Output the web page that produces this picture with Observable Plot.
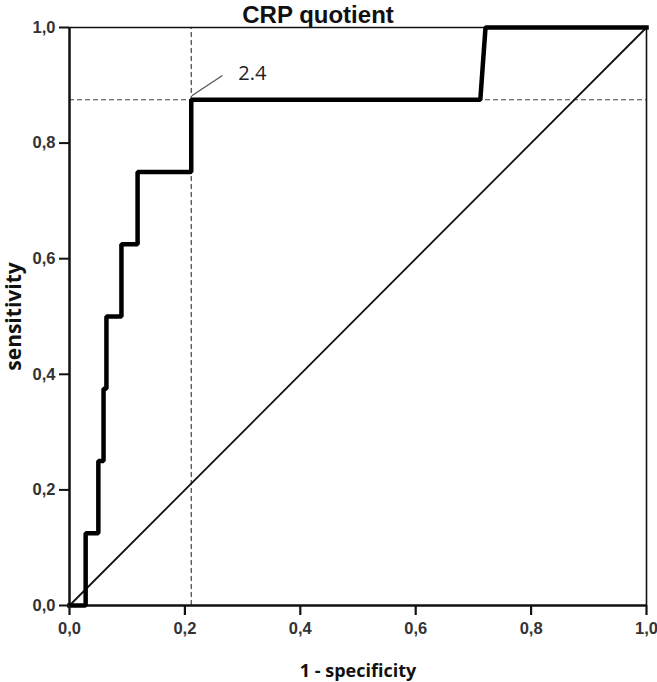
<!DOCTYPE html>
<html><head><meta charset="utf-8">
<script src="https://cdn.jsdelivr.net/npm/d3@7"></script>
<script src="https://cdn.jsdelivr.net/npm/@observablehq/plot@0.6"></script>
<style>
html,body{margin:0;padding:0;background:#fff}
</style>
</head><body><div id="chart"></div>
<script>
// ROC curve (1 - specificity, sensitivity)
const fpr = [0, 0.028, 0.028, 0.050, 0.050, 0.059, 0.059, 0.064, 0.064, 0.090, 0.090, 0.118, 0.118, 0.211, 0.211, 0.712, 0.721, 1.0];
const tpr = [0, 0, 0.125, 0.125, 0.25, 0.25, 0.375, 0.375, 0.5, 0.5, 0.625, 0.625, 0.75, 0.75, 0.875, 0.875, 1.0, 1.0];
const diagonal = [0, 1];
const cutoffFpr = 0.211;
const cutoffTpr = 0.875;
const cutoffLabel = "2.4";
const leaderFrom = [0.212, 0.882];
const leaderTo = [0.265, 0.917];
const labelPos = [0.317, 0.921];
const tickValues = [0, 0.2, 0.4, 0.6, 0.8, 1.0];
const title = "CRP quotient";
const xLabel = "1 - specificity";
const yLabel = "sensitivity";

const roc = fpr.map((x, i) => ({x, y: tpr[i]}));
const fmt = d => d.toFixed(1).replace(".", ",");
const sans = "'Liberation Sans', Arial, sans-serif";
const labelFont = "'Open Sans', 'Noto Sans', sans-serif";
const W = 657, H = 682, mL = 69, mR = 11, mT = 27, mB = 77;
const tickLen = 10;
const tickY = -tickLen / (H - mT - mB); // tick end below y = 0, in data units

const chart = Plot.plot({
  width: W, height: H,
  marginLeft: mL, marginRight: mR, marginTop: mT, marginBottom: mB,
  x: {domain: [0, 1], axis: null},
  y: {domain: [0, 1], axis: null},
  style: {fontFamily: sans, background: "#fff", color: "#222"},
  marks: [
    Plot.ruleX([cutoffFpr], {y1: 0, y2: 1, stroke: "#444", strokeWidth: 1.2, strokeDasharray: "5,3"}),
    Plot.ruleY([cutoffTpr], {x1: 0, x2: 1, stroke: "#444", strokeWidth: 1.2, strokeDasharray: "5,3"}),
    Plot.line(diagonal, {x: d => d, y: d => d, stroke: "#111", strokeWidth: 1.8}),
    Plot.ruleX([1], {y1: 0, y2: 1, stroke: "#111", strokeWidth: 1.6}),
    Plot.ruleY([1], {x1: 0, x2: 1, stroke: "#111", strokeWidth: 1.6}),
    Plot.ruleX([0], {y1: 0, y2: 1, stroke: "#111", strokeWidth: 2.5}),
    Plot.ruleY([0], {x1: 0, x2: 1, stroke: "#111", strokeWidth: 2.5}),
    Plot.line(roc, {x: "x", y: "y", stroke: "#000", strokeWidth: 4.5, strokeLinejoin: "miter", strokeLinecap: "square"}),
    Plot.link([0], {x1: () => leaderFrom[0], y1: () => leaderFrom[1], x2: () => leaderTo[0], y2: () => leaderTo[1], stroke: "#555", strokeWidth: 1.3}),
    Plot.text([cutoffLabel], {x: () => labelPos[0], y: () => labelPos[1], text: d => d, fontFamily: labelFont, fontSize: 20, fill: "#222"}),
    // axes: ticks and labels
    Plot.ruleX(tickValues, {x: d => d, y1: 0, y2: tickY, stroke: "#111", strokeWidth: 2.2}),
    Plot.ruleY(tickValues, {y: d => d, x1: () => 0, x2: () => 0, insetLeft: -10, stroke: "#111", strokeWidth: 2}),
    Plot.text(tickValues, {x: d => d, y: () => 0, dy: 23, text: fmt, fontSize: 16.5, fontWeight: "bold", fill: "#333"}),
    Plot.text(tickValues, {y: d => d, x: () => 0, dx: -14, textAnchor: "end", text: fmt, fontSize: 16.5, fontWeight: "bold", fill: "#333"}),
    Plot.text([title], {frameAnchor: "top", dx: -40, dy: -22, text: d => d, fontSize: 24, fontWeight: "bold", fill: "#111"}),
    Plot.text([xLabel], {frameAnchor: "bottom", dy: 71, text: d => d, fontFamily: labelFont, fontSize: 18, fontWeight: "bold", fill: "#111"}),
    Plot.text([yLabel], {frameAnchor: "left", textAnchor: "middle", dx: -55, rotate: -90, text: d => d, fontFamily: labelFont, fontSize: 21, fontWeight: "bold", fill: "#111"})
  ]
});
document.getElementById("chart").appendChild(chart);
</script>
</body></html>
